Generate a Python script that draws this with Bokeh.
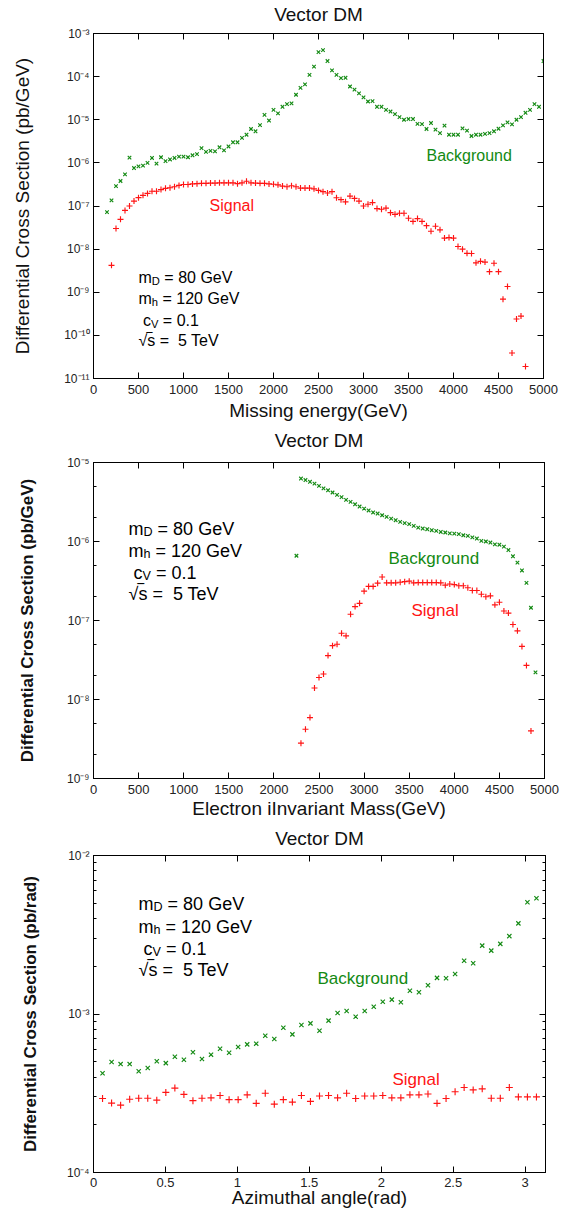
import numpy as np
from bokeh.plotting import figure
from bokeh.models import (Range1d, FixedTicker, CustomJSTickFormatter, LinearAxis,
                          LogAxis, Label, Title)
from bokeh.layouts import column
from bokeh.embed import file_html
from bokeh.resources import INLINE

FONT = "Liberation Sans"
GREEN = "#138a13"
RED = "#ff1414"
NB = "\u00a0"

# ---------------- Panel 1: missing energy ----------------
e_bg_x = list(range(150, 5001, 50))
e_bg = [7.2e-8, 1.35e-7, 2.9e-7, 3.8e-7, 5.4e-7, 1.32e-6, 7.6e-7, 8.3e-7, 8.6e-7, 1.0e-6,
        1.3e-6, 9.6e-7, 1.35e-6, 1.1e-6, 1.2e-6, 1.3e-6, 1.4e-6, 1.4e-6, 1.35e-6, 1.5e-6,
        1.6e-6, 2.2e-6, 1.8e-6, 1.9e-6, 1.85e-6, 2.3e-6, 1.95e-6, 2.4e-6, 3.0e-6, 3.0e-6,
        3.8e-6, 4.5e-6, 6.1e-6, 5.4e-6, 7.5e-6, 1.3e-5, 9.6e-6, 1.7e-5, 1.4e-5, 2.0e-5,
        2.3e-5, 2.4e-5, 3.8e-5, 5.5e-5, 6.6e-5, 1.1e-4, 1.7e-4, 3.7e-4, 4.1e-4, 2.3e-4,
        1.4e-4, 1.1e-4, 9.2e-5, 9.4e-5, 5.9e-5, 5.0e-5, 4.1e-5, 3.3e-5, 2.65e-5, 2.7e-5,
        2.0e-5, 2.0e-5, 1.7e-5, 1.55e-5, 1.35e-5, 1.15e-5, 1.0e-5, 1.04e-5, 1.04e-5, 8.0e-6,
        7.9e-6, 6.1e-6, 8.4e-6, 5.9e-6, 4.9e-6, 7.3e-6, 4.5e-6, 4.5e-6, 4.5e-6, 6.3e-6,
        5.6e-6, 4.2e-6, 4.5e-6, 4.5e-6, 4.7e-6, 4.9e-6, 5.4e-6, 6.2e-6, 7.4e-6, 8.7e-6,
        7.8e-6, 1.0e-5, 1.15e-5, 1.45e-5, 1.7e-5, 2.3e-5, 2.0e-5, 2.3e-4]
e_sig_x = list(range(200, 4801, 50))
e_sig = [4.2e-9, 3.0e-8, 4.9e-8, 7.9e-8, 1.0e-7, 1.3e-7, 1.56e-7, 1.77e-7, 1.96e-7, 2.2e-7,
         2.2e-7, 2.4e-7, 2.57e-7, 2.65e-7, 2.8e-7, 3.0e-7, 3.15e-7, 3.15e-7, 3.25e-7, 3.3e-7,
         3.35e-7, 3.35e-7, 3.4e-7, 3.4e-7, 3.45e-7, 3.45e-7, 3.45e-7, 3.45e-7, 3.3e-7, 3.45e-7,
         3.75e-7, 3.45e-7, 3.4e-7, 3.35e-7, 3.35e-7, 3.25e-7, 3.2e-7, 3.1e-7, 2.9e-7, 2.8e-7,
         2.95e-7, 2.8e-7, 2.6e-7, 2.6e-7, 2.6e-7, 2.5e-7, 2.3e-7, 2.15e-7, 2.0e-7, 2.15e-7,
         1.55e-7, 1.4e-7, 1.25e-7, 1.7e-7, 1.5e-7, 1.3e-7, 1.0e-7, 1.1e-7, 1.2e-7, 8.7e-8,
         8.4e-8, 8.9e-8, 7.0e-8, 6.4e-8, 6.8e-8, 6.8e-8, 5.2e-8, 4.4e-8, 5.1e-8, 4.4e-8,
         3.5e-8, 2.6e-8, 3.4e-8, 2.8e-8, 1.8e-8, 1.85e-8, 1.8e-8, 1.15e-8, 1.0e-8, 8.0e-9,
         7.9e-9, 4.8e-9, 5.2e-9, 5.0e-9, 3.0e-9, 4.7e-9, 3.0e-9, 6.9e-10, 1.36e-9, 3.9e-11,
         2.4e-10, 2.8e-10, 1.9e-11]

# ---------------- Panel 2: electron invariant mass ----------------
m_bg_x = list(range(2250, 4901, 50))
m_bg = [6.6e-7,
        6.27e-6, 6.0e-6, 5.7e-6, 5.4e-6, 5.06e-6, 4.7e-6, 4.45e-6, 4.17e-6, 3.9e-6, 3.64e-6,
        3.37e-6, 3.18e-6, 2.96e-6, 2.77e-6, 2.61e-6, 2.47e-6, 2.33e-6, 2.26e-6, 2.15e-6, 2.05e-6,
        1.95e-6, 1.86e-6, 1.77e-6, 1.71e-6, 1.66e-6, 1.58e-6, 1.5e-6, 1.46e-6, 1.43e-6, 1.39e-6,
        1.36e-6, 1.32e-6, 1.3e-6, 1.27e-6, 1.26e-6, 1.24e-6, 1.2e-6, 1.18e-6, 1.13e-6, 1.09e-6,
        1.02e-6, 1.0e-6, 9.7e-7, 9.2e-7, 9.1e-7, 8.6e-7, 7.8e-7, 6.5e-7, 5.4e-7, 4.3e-7,
        3.0e-7, 1.45e-7, 2.2e-8]
m_sig_x = list(range(2300, 4851, 50))
m_sig = [2.8e-9, 4.2e-9, 5.9e-9, 1.4e-8, 1.9e-8, 2.1e-8, 3.6e-8, 4.8e-8, 5.0e-8, 6.9e-8,
         6.4e-8, 1.2e-7, 1.5e-7, 1.65e-7, 2.35e-7, 2.7e-7, 2.7e-7, 2.97e-7, 3.55e-7, 3.0e-7,
         3.0e-7, 3.0e-7, 3.05e-7, 3.1e-7, 3.15e-7, 3.0e-7, 3.02e-7, 3.02e-7, 3.02e-7, 3.02e-7,
         3.02e-7, 3.0e-7, 2.8e-7, 2.9e-7, 2.85e-7, 2.75e-7, 2.75e-7, 2.6e-7, 2.4e-7, 2.4e-7,
         2.15e-7, 2.0e-7, 2.05e-7, 1.58e-7, 1.7e-7, 1.32e-7, 1.24e-7, 8.9e-8, 7.4e-8, 4.7e-8,
         2.7e-8, 4.0e-9]

# ---------------- Panel 3: azimuthal angle ----------------
a_x = [k * np.pi / 50 for k in range(1, 50)]
a_bg = [4.23e-4, 4.98e-4, 4.83e-4, 4.83e-4, 4.35e-4, 4.56e-4, 5.03e-4, 4.9e-4, 5.38e-4, 5.15e-4,
        5.73e-4, 5.2e-4, 5.54e-4, 6.04e-4, 5.7e-4, 6.19e-4, 6.43e-4, 6.5e-4, 7.3e-4, 6.95e-4,
        8.2e-4, 7.44e-4, 8.53e-4, 8.73e-4, 7.85e-4, 9.08e-4, 1.014e-3, 1.044e-3, 9.62e-4, 1.044e-3,
        1.11e-3, 1.196e-3, 1.232e-3, 1.186e-3, 1.40e-3, 1.37e-3, 1.52e-3, 1.69e-3, 1.68e-3, 1.79e-3,
        2.17e-3, 2.09e-3, 2.70e-3, 2.51e-3, 2.77e-3, 3.1e-3, 3.73e-3, 5.07e-3, 5.37e-3]
a_sig = [2.93e-4, 2.74e-4, 2.66e-4, 2.9e-4, 2.94e-4, 2.94e-4, 2.86e-4, 3.2e-4, 3.41e-4, 3.11e-4,
         2.84e-4, 2.94e-4, 2.96e-4, 3.06e-4, 2.88e-4, 2.88e-4, 3.09e-4, 2.73e-4, 3.16e-4, 2.7e-4,
         2.88e-4, 2.78e-4, 3.06e-4, 2.81e-4, 3.04e-4, 3.06e-4, 2.96e-4, 3.16e-4, 2.93e-4, 3.04e-4,
         3.04e-4, 3.06e-4, 2.96e-4, 2.96e-4, 3.09e-4, 3.09e-4, 3.13e-4, 2.73e-4, 2.93e-4, 3.23e-4,
         3.44e-4, 3.32e-4, 3.37e-4, 2.94e-4, 2.94e-4, 3.44e-4, 3.0e-4, 3.0e-4, 3.0e-4]

E_TICKS = list(range(0, 5001, 500))
A_TICKS = [0, 0.5, 1, 1.5, 2, 2.5, 3]

SUP_JS = """
const e = Math.round(Math.log10(tick));
const m = {"-":"\\u207b","0":"\\u2070","1":"\\u00b9","2":"\\u00b2","3":"\\u00b3","4":"\\u2074",
           "5":"\\u2075","6":"\\u2076","7":"\\u2077","8":"\\u2078","9":"\\u2079"};
let s = "10";
for (const c of String(e)) { s += m[c]; }
return s;
"""


def decades(lo, hi):
    return [10.0 ** k for k in range(lo, hi + 1)]


def minors(lo, hi, mults):
    return [m * 10.0 ** k for k in range(lo, hi) for m in mults]


def make_panel(fw, fh, xr, yr, borders, xticks, yticks, yminor, xstand,
               title, title_stand, ylab, ylab_stand, ylab_size, ylab_bold,
               xlab, xlab_stand, xlab_off):
    left, right, top, bottom = borders
    p = figure(frame_width=fw, frame_height=fh, x_range=xr, y_range=yr, y_axis_type="log",
               output_backend="svg", toolbar_location=None, title=None,
               min_border_left=left, min_border_right=right,
               min_border_top=top, min_border_bottom=bottom)
    p.xgrid.visible = False
    p.ygrid.visible = False
    p.outline_line_color = "black"
    p.outline_line_width = 1
    p.background_fill_color = "white"
    p.border_fill_color = "white"

    xt = FixedTicker(ticks=xticks, minor_ticks=[])
    yt = FixedTicker(ticks=yticks, minor_ticks=yminor)
    xf = CustomJSTickFormatter(code="return String(tick);")
    yf = CustomJSTickFormatter(code=SUP_JS)
    blank = CustomJSTickFormatter(code="return '';")

    def style(ax):
        ax.axis_line_color = "black"
        ax.major_tick_in = 6
        ax.major_tick_out = 0
        ax.minor_tick_in = 3
        ax.minor_tick_out = 0
        ax.major_tick_line_color = "black"
        ax.minor_tick_line_color = "black"
        ax.major_label_text_font = FONT
        ax.major_label_text_color = "#222222"
        ax.axis_label_text_font = FONT
        ax.axis_label_text_color = "#111111"
        ax.axis_label_text_font_style = "normal"

    xa = p.xaxis[0]
    xa.ticker = xt
    xa.formatter = xf
    style(xa)
    xa.major_label_text_font_size = "13px"
    xa.major_label_standoff = xstand

    ya = p.yaxis[0]
    ya.ticker = yt
    ya.formatter = yf
    style(ya)
    ya.major_label_text_font_size = "12px"
    ya.major_label_standoff = 4
    ya.axis_label = ylab
    ya.axis_label_text_font_size = f"{ylab_size}px"
    ya.axis_label_text_font_style = "bold" if ylab_bold else "normal"
    ya.axis_label_standoff = ylab_stand

    top_ax = LinearAxis(ticker=xt, formatter=blank, major_label_text_font_size="0px",
                        major_label_standoff=0)
    style(top_ax)
    top_ax.axis_label = title
    top_ax.axis_label_text_font_size = "19px"
    top_ax.axis_label_standoff = title_stand
    p.add_layout(top_ax, "above")
    right_ax = LogAxis(ticker=yt, formatter=blank, major_label_text_font_size="0px",
                       major_label_standoff=0)
    style(right_ax)
    p.add_layout(right_ax, "right")

    p.add_layout(Title(text=xlab, align="center", text_font=FONT, text_font_size="19px",
                       text_font_style="normal", standoff=xlab_stand, offset=xlab_off,
                       text_color="#111111"), "below")
    return p


def lab(p, x, y, text, size, color="black"):
    p.add_layout(Label(x=x, y=y, x_units="screen", y_units="screen", text=text,
                       text_font=FONT, text_font_size=f"{size}px", text_color=color,
                       text_align="left", text_baseline="alphabetic"))


def params(p, x0, ys, size):
    sub = 0.7 * size
    dy = 0.22 * size
    lab(p, x0, ys[0], "m", size)
    lab(p, x0 + 0.833 * size, ys[0] - dy, "D", sub)
    lab(p, x0 + 0.833 * size + 0.722 * sub, ys[0], NB + "= 80 GeV", size)
    lab(p, x0, ys[1], "m", size)
    lab(p, x0 + 0.833 * size, ys[1] - dy, "h", sub)
    lab(p, x0 + 0.833 * size + 0.556 * sub, ys[1], NB + "= 120 GeV", size)
    cx = x0 + 0.278 * size
    lab(p, cx, ys[2], "c", size)
    lab(p, cx + 0.5 * size, ys[2] - dy, "V", sub)
    lab(p, cx + 0.5 * size + 0.667 * sub, ys[2], NB + "= 0.1", size)
    lab(p, x0, ys[3], "\u221as =" + NB + NB + "5 TeV", size)
    lab(p, x0 + 0.52 * size, ys[3] + 0.06 * size, "\u203e", size)


def series(p, x, bg, xs, sig, xsize, psize):
    p.scatter(x, bg, marker="x", size=xsize, line_color=GREEN, line_width=1.15)
    p.scatter(xs, sig, marker="cross", size=psize, line_color=RED, line_width=1.15)


# ---- figure 1 ----
p1 = make_panel(450, 345, Range1d(0, 5000), Range1d(1e-11, 1e-3), (91, 20, 33, 48),
                E_TICKS, decades(-11, -3), [], 6,
                "Vector DM", 9, "Differential Cross Section (pb/GeV)", 28, 19, False,
                "Missing energy(GeV)", 2, -7)
series(p1, e_bg_x, e_bg, e_sig_x, e_sig, 5, 6)
lab(p1, 116, 173, "Signal", 16, color=RED)
lab(p1, 333, 223, "Background", 16, color=GREEN)
params(p1, 45, [101, 80, 58, 38], 16)

# ---- figure 2 ----
p2 = make_panel(451, 316, Range1d(0, 5000), Range1d(1e-9, 1e-5), (85, 25, 36, 44),
                E_TICKS, decades(-9, -5), minors(-9, -5, [2, 5]), 6,
                "Vector DM", 12, "Differential Cross Section (pb/GeV)", 27, 17, True,
                "Electron iInvariant Mass(GeV)", -2, 0)
series(p2, m_bg_x, m_bg, m_sig_x, m_sig, 5, 6)
lab(p2, 318, 168, "Signal", 17, color=RED)
lab(p2, 295, 220, "Background", 17, color=GREEN)
params(p2, 35, [250, 228, 206, 185], 18)

# ---- figure 3 ----
p3 = make_panel(452, 317, Range1d(0, np.pi), Range1d(1e-4, 1e-2), (93, 16, 33, 45),
                A_TICKS, decades(-4, -2), minors(-4, -2, [2, 3, 4, 5, 6, 7, 8, 9]), 5,
                "Vector DM", 7, "Differential Cross Section (pb/rad)", 24, 17, True,
                "Azimuthal angle(rad)", -10, -10)
series(p3, a_x, a_bg, a_x, a_sig, 6, 7)
lab(p3, 299, 93, "Signal", 17, color=RED)
lab(p3, 224, 194, "Background", 17, color=GREEN)
params(p3, 45, [269, 246, 224, 203], 18)

layout = column(p1, p2, p3, spacing=0)
open("out.html", "w").write(file_html(layout, INLINE))
